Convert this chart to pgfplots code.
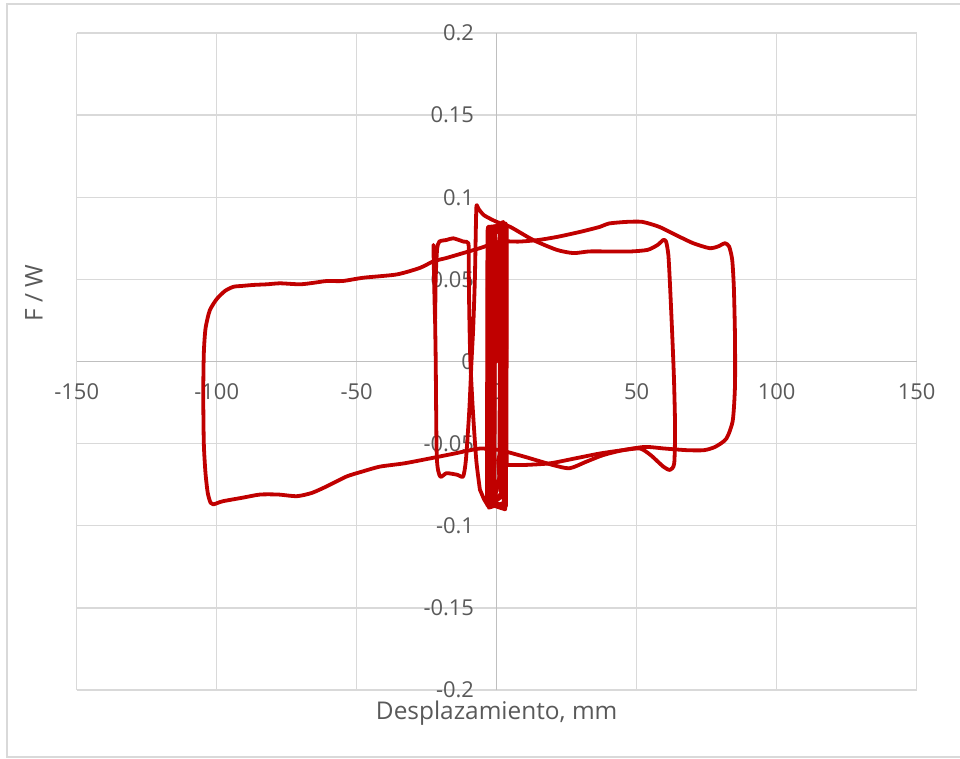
\documentclass[border=0pt]{standalone}
\usepackage{fontspec}
\setmainfont{Open Sans}
\usepackage{pgfplots}
\pgfplotsset{compat=1.18}
\definecolor{gridc}{HTML}{D9D9D9}
\definecolor{axc}{HTML}{BFBFBF}
\definecolor{txt}{HTML}{595959}
\definecolor{serc}{HTML}{C00000}
\begin{document}
\begin{tikzpicture}
\useasboundingbox (-76.7bp,-69bp) rectangle (883.3bp,690bp);
\draw[gridc, line width=1.3bp] (-69.7bp,-67bp) rectangle (900bp,686bp);
\begin{axis}[
  at={(0,0)}, anchor=south west,
  scale only axis, width=840bp, height=657bp,
  xmin=-150, xmax=150, ymin=-0.2, ymax=0.2,
  enlargelimits=false,
  axis lines=middle,
  axis line style={axc, line width=1.3bp, -},
  every inner x axis line/.append style={-},
  every inner y axis line/.append style={-},
  xtick={-150,-100,-50,0,50,100,150},
  ytick={-0.2,-0.15,-0.1,-0.05,0,0.05,0.1,0.15,0.2},
  scaled y ticks=false, scaled x ticks=false,
  grid=major, grid style={gridc, line width=1.3bp},
  major tick length=0pt,
  hide obscured x ticks=false, hide obscured y ticks=false,
  /pgf/number format/assume math mode=true,
  tick label style={font=\fontsize{22}{26}\selectfont, text=txt, inner sep=0pt},
  xticklabel style={anchor=north, yshift=-21.5bp},
  yticklabel style={anchor=east, xshift=-22.5bp, /pgf/number format/fixed, /pgf/number format/precision=2},
  xlabel={Desplazamiento, mm},
  xlabel style={at={(axis description cs:0.5,0)}, anchor=base, yshift=-29bp, font=\fontsize{24.5}{29}\selectfont, text=txt, inner sep=0pt},
  ylabel={F / W},
  ylabel style={at={(axis description cs:-0.0508,0.604)}, anchor=center, rotate=90, font=\fontsize{24.5}{29}\selectfont, text=txt, inner sep=0pt},
  hyst/.style={draw=serc, line width=3.8bp, line join=round, line cap=round},
]
% small cycles
\addplot[hyst] coordinates {
(0,0) (0.4,0.06) (1.2,0.082) (1.0,-0.07) (-0.8,-0.084) (-0.6,0.078) (1.8,0.084) (1.6,-0.080)
(-1.5,-0.088) (-1.3,0.080) (2.3,0.085) (2.1,-0.082) (-2.2,-0.087) (-2.0,0.081) (2.9,0.084)
(2.7,-0.086) (-2.8,-0.089) (-2.6,0.082) (3.3,0.083) (3.1,-0.088) (-3.3,-0.088) (-3.1,0.082)
(3.6,0.082) (3.5,-0.05) (3.6,-0.063)
};
% cycle to +62 and -22
\addplot[hyst, smooth, tension=0.4] coordinates {
(3.6,-0.063)
(10,-0.063) (19,-0.062) (28,-0.059) (36.9,-0.056) (45,-0.054) (51.2,-0.053) (55,-0.057)
(59.5,-0.064) (61.9,-0.066) (63.4,-0.062) (63.7,-0.04) (63.3,-0.01) (62.6,0.02) (61.8,0.05)
(61.3,0.065) (60.5,0.073) (59.5,0.074) (57.5,0.071) (54,0.068) (48,0.067) (40,0.067)
(33,0.067) (27.4,0.066) (21.4,0.068) (13,0.074) (4.8,0.082) (0,0.085) (-4.5,0.089)
(-6.5,0.093) (-7.2,0.095) (-7.4,0.085) (-7.8,0.05) (-8.4,0.02) (-9.0,0) (-9.8,-0.03)
(-11,-0.06) (-12,-0.070) (-14,-0.069) (-17.9,-0.068) (-20.2,-0.070) (-21.4,-0.058)
(-21.8,0.003) (-22.3,0.054) (-22.6,0.071) (-22.3,0.045) (-22.0,0.026) (-21.8,0.05)
(-21.3,0.068) (-20.5,0.073) (-17.9,0.074) (-15.5,0.075) (-11.9,0.073) (-10.1,0.072)
(-10.0,0.06) (-9.8,0.03) (-9.4,0) (-8.5,-0.03) (-7.3,-0.06) (-6,-0.078)
};
% small cycles again
\addplot[hyst] coordinates {
(-6,-0.078) (-4.5,-0.084) (-3.4,-0.087) (-3.2,0.081) (3.2,0.084) (3.0,-0.090) (-2.5,-0.087)
(-2.3,0.080) (2.6,0.083) (2.5,-0.089) (-1.0,-0.085) (-0.8,0.078) (3.4,0.082) (3.3,-0.088)
(-3.5,-0.086) (-3.3,0.080) (1.5,0.082) (1.3,-0.079) (0.5,-0.06) (1.5,-0.054)
};
% cycle to +85 and -104
\addplot[hyst, smooth, tension=0.4] coordinates {
(1.5,-0.054)
(10,-0.058) (20,-0.063) (26,-0.065) (32,-0.061) (38,-0.057) (45,-0.054) (53,-0.052)
(60,-0.053) (68,-0.054) (74,-0.054) (78,-0.052) (82,-0.047) (84.3,-0.036) (85.1,-0.015)
(85.1,0.015) (84.7,0.045) (84.1,0.062) (83,0.070) (81.5,0.072) (79,0.070) (76,0.069)
(70.2,0.072) (64,0.077) (58,0.082) (52,0.085) (46.4,0.085) (40,0.084) (36.9,0.082)
(30,0.079) (22,0.076) (15,0.074) (8,0.073) (1.2,0.073) (-6,0.069) (-12,0.066) (-18,0.063)
(-22.6,0.061) (-27.4,0.057) (-35.7,0.053) (-47.6,0.051) (-55,0.049) (-60.7,0.049)
(-65,0.048) (-70.2,0.047) (-77.4,0.0476) (-82,0.047) (-87,0.0466) (-91,0.046) (-94,0.0455)
(-97,0.043) (-100,0.038) (-102.5,0.031) (-104,0.020) (-104.6,0.005) (-104.8,-0.02)
(-104.6,-0.05) (-104.0,-0.068) (-103.2,-0.080) (-102.2,-0.086) (-101.2,-0.087)
(-99.5,-0.086) (-97.6,-0.085) (-91,-0.083) (-84.5,-0.081) (-78,-0.081) (-71.4,-0.082)
(-66,-0.080) (-60.7,-0.076) (-53.6,-0.070) (-48,-0.067) (-41.7,-0.064) (-33,-0.062)
(-23.8,-0.059) (-15,-0.056) (-6,-0.053) (1.5,-0.054)
};
\end{axis}
\end{tikzpicture}
\end{document}
